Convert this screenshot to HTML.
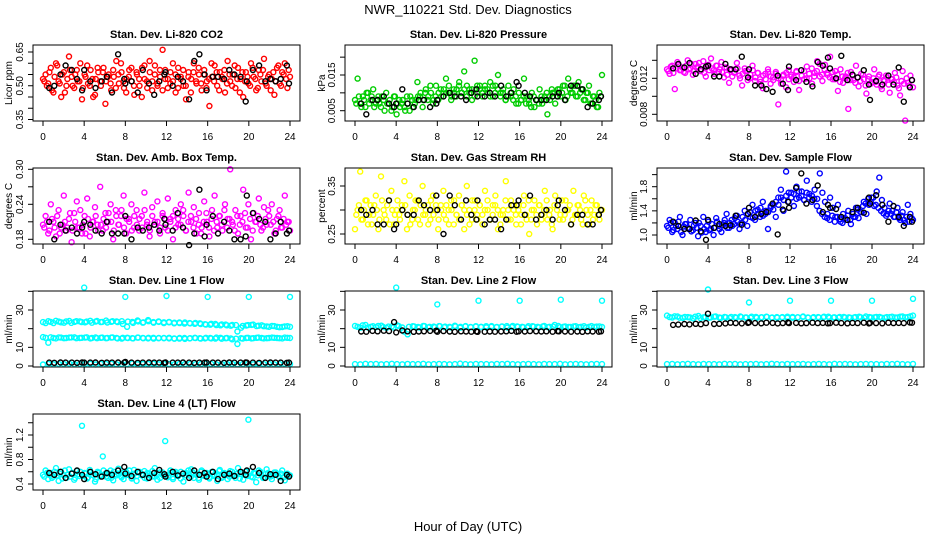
<!DOCTYPE html>
<html><head><meta charset="utf-8"><style>
html,body{margin:0;padding:0;background:#fff;}
svg{display:block;font-family:"Liberation Sans",Arial,sans-serif;}
</style></head><body>
<svg id="chart" width="936" height="540" viewBox="0 0 936 540">
<text x="468" y="14" text-anchor="middle" font-size="13">NWR_110221  Std. Dev. Diagnostics</text>
<text x="468" y="531" text-anchor="middle" font-size="13">Hour of Day (UTC)</text>
</svg>
<script>
const blackHours=[0.6,1.1,1.7,2.2,2.8,3.3,3.8,4.0,4.6,5.1,5.7,6.2,6.7,7.3,7.9,8.0,8.6,9.2,9.7,10.3,10.8,11.3,11.8,11.9,12.6,13.1,13.6,14.2,14.7,15.2,15.7,15.9,16.5,17.0,17.6,18.1,18.6,19.2,19.7,19.8,20.4,21.0,21.6,22.1,22.6,23.1,23.7,23.9];
const outlierHours=[4,8,12,16,20,24];
const xTicks=[0,4,8,12,16,20,24];

const co2Red=[0.53,0.55,0.51,0.58,0.47,0.60,0.52,0.45,0.56,0.50,0.63,0.54,0.49,0.57,0.52,0.44,0.55,0.59,0.50,0.53,0.46,0.58,0.52,0.56,0.42,0.54,0.51,0.57,0.49,0.55,0.60,0.52,0.47,0.54,0.58,0.50,0.56,0.53,0.45,0.59,0.52,0.61,0.48,0.55,0.51,0.57,0.66,0.53,0.49,0.56,0.52,0.47,0.58,0.54,0.50,0.44,0.56,0.53,0.60,0.51,0.55,0.48,0.57,0.52,0.41,0.54,0.59,0.50,0.56,0.53,0.47,0.61,0.52,0.55,0.49,0.58,0.53,0.45,0.56,0.51,0.60,0.54,0.48,0.57,0.52,0.62,0.50,0.55,0.53,0.46,0.58,0.51,0.56,0.60,0.49,0.54];
const co2RedB=[0.52,0.50,0.56,0.48,0.54,0.59,0.51,0.55,0.47,0.53,0.57,0.50,0.55,0.52,0.60,0.49,0.54,0.51,0.57,0.45,0.53,0.56,0.50,0.58,0.52,0.55,0.48,0.54,0.61,0.51,0.56,0.49,0.53,0.57,0.52,0.46,0.55,0.50,0.58,0.53,0.49,0.56,0.52,0.59,0.50,0.54,0.48,0.57,0.53,0.51,0.60,0.55,0.49,0.53,0.57,0.50,0.54,0.47,0.56,0.52,0.58,0.51,0.55,0.49,0.53,0.60,0.52,0.56,0.48,0.54,0.57,0.51,0.55,0.50,0.59,0.53,0.47,0.56,0.52,0.54,0.50,0.58,0.53,0.49,0.55,0.57,0.51,0.54,0.48,0.56,0.52,0.59,0.50,0.55,0.53,0.57];
const co2Black=[0.49,0.50,0.55,0.59,0.57,0.53,0.48,0.57,0.52,0.49,0.52,0.54,0.47,0.64,0.53,0.51,0.52,0.47,0.57,0.51,0.46,0.52,0.55,0.56,0.50,0.54,0.52,0.44,0.61,0.64,0.55,0.48,0.54,0.54,0.53,0.57,0.55,0.54,0.43,0.52,0.57,0.59,0.52,0.53,0.52,0.53,0.59,0.51];
const presGreen=[0.008,0.014,0.007,0.009,0.006,0.010,0.008,0.011,0.007,0.009,0.006,0.008,0.010,0.007,0.005,0.009,0.004,0.008,0.007,0.006,0.009,0.005,0.008,0.007,0.013,0.009,0.006,0.010,0.008,0.012,0.007,0.009,0.008,0.011,0.009,0.014,0.010,0.008,0.011,0.009,0.012,0.010,0.016,0.009,0.011,0.008,0.019,0.010,0.012,0.009,0.011,0.010,0.013,0.009,0.012,0.015,0.010,0.011,0.008,0.012,0.009,0.011,0.007,0.010,0.008,0.014,0.009,0.007,0.010,0.006,0.008,0.011,0.007,0.009,0.004,0.008,0.010,0.007,0.011,0.009,0.012,0.008,0.014,0.010,0.012,0.009,0.013,0.011,0.008,0.010,0.012,0.007,0.009,0.006,0.010,0.015];
const presGreenB=[0.007,0.009,0.006,0.008,0.010,0.007,0.009,0.006,0.008,0.007,0.009,0.005,0.007,0.008,0.006,0.009,0.007,0.006,0.008,0.005,0.007,0.009,0.006,0.008,0.009,0.010,0.008,0.011,0.009,0.010,0.008,0.012,0.010,0.009,0.011,0.010,0.012,0.009,0.010,0.011,0.013,0.010,0.011,0.012,0.010,0.011,0.009,0.012,0.011,0.010,0.012,0.011,0.009,0.012,0.010,0.011,0.009,0.010,0.008,0.009,0.010,0.008,0.009,0.007,0.008,0.009,0.007,0.008,0.006,0.009,0.008,0.007,0.009,0.008,0.010,0.009,0.011,0.010,0.009,0.011,0.010,0.012,0.009,0.011,0.010,0.012,0.009,0.010,0.011,0.008,0.010,0.007,0.009,0.008,0.006,0.009];
const presBlack=[0.007,0.004,0.008,0.008,0.009,0.007,0.006,0.007,0.011,0.007,0.006,0.008,0.008,0.006,0.007,0.008,0.009,0.010,0.009,0.009,0.008,0.010,0.011,0.009,0.009,0.010,0.009,0.012,0.009,0.010,0.013,0.012,0.010,0.009,0.008,0.008,0.008,0.009,0.009,0.010,0.008,0.012,0.012,0.011,0.006,0.007,0.008,0.009];
const tempMag=[0.0130,0.0125,0.0134,0.0108,0.0138,0.0129,0.0132,0.0126,0.0140,0.0131,0.0124,0.0136,0.0133,0.0128,0.0139,0.0122,0.0135,0.0142,0.0129,0.0134,0.0127,0.0138,0.0121,0.0132,0.0115,0.0130,0.0126,0.0137,0.0123,0.0112,0.0131,0.0128,0.0120,0.0134,0.0117,0.0126,0.0119,0.0109,0.0125,0.0130,0.0114,0.0121,0.0127,0.0091,0.0118,0.0124,0.0110,0.0129,0.0122,0.0116,0.0128,0.0107,0.0123,0.0119,0.0133,0.0120,0.0114,0.0126,0.0139,0.0122,0.0117,0.0135,0.0124,0.0144,0.0119,0.0128,0.0106,0.0130,0.0115,0.0122,0.0086,0.0127,0.0118,0.0134,0.0111,0.0125,0.0119,0.0103,0.0122,0.0116,0.0130,0.0113,0.0124,0.0108,0.0117,0.0121,0.0104,0.0119,0.0126,0.0112,0.0101,0.0128,0.0073,0.0115,0.0123,0.0110];
const tempMagB=[0.0128,0.0133,0.0126,0.0131,0.0135,0.0129,0.0127,0.0134,0.0130,0.0136,0.0128,0.0132,0.0137,0.0130,0.0126,0.0133,0.0129,0.0131,0.0125,0.0134,0.0130,0.0127,0.0132,0.0124,0.0129,0.0122,0.0127,0.0131,0.0120,0.0125,0.0128,0.0118,0.0124,0.0129,0.0121,0.0126,0.0116,0.0123,0.0119,0.0127,0.0122,0.0118,0.0125,0.0120,0.0114,0.0123,0.0126,0.0119,0.0124,0.0121,0.0127,0.0117,0.0123,0.0128,0.0120,0.0125,0.0131,0.0122,0.0128,0.0136,0.0124,0.0130,0.0126,0.0121,0.0127,0.0119,0.0124,0.0116,0.0122,0.0120,0.0126,0.0118,0.0123,0.0115,0.0121,0.0117,0.0124,0.0112,0.0119,0.0114,0.0120,0.0116,0.0122,0.0111,0.0118,0.0123,0.0113,0.0119,0.0116,0.0121,0.0109,0.0117,0.0114,0.0120,0.0112,0.0118];
const tempBlack=[0.0131,0.0136,0.0132,0.0137,0.0125,0.0130,0.0133,0.0134,0.0122,0.0122,0.0136,0.0130,0.0130,0.0144,0.0121,0.0130,0.0112,0.0112,0.0108,0.0105,0.0123,0.0114,0.0107,0.0133,0.0118,0.0129,0.0116,0.0111,0.0138,0.0134,0.0143,0.0131,0.0120,0.0145,0.0118,0.0124,0.0121,0.0129,0.0113,0.0096,0.0117,0.0113,0.0123,0.0113,0.0132,0.0094,0.0110,0.0118];
const ambMag=[0.205,0.22,0.19,0.24,0.21,0.185,0.23,0.20,0.255,0.195,0.215,0.175,0.225,0.245,0.20,0.19,0.22,0.25,0.185,0.21,0.235,0.205,0.27,0.195,0.225,0.21,0.24,0.18,0.23,0.205,0.22,0.255,0.19,0.215,0.24,0.20,0.23,0.195,0.22,0.26,0.205,0.185,0.235,0.21,0.245,0.19,0.22,0.20,0.25,0.215,0.18,0.23,0.205,0.24,0.22,0.195,0.26,0.21,0.235,0.19,0.225,0.20,0.245,0.21,0.185,0.23,0.255,0.20,0.22,0.195,0.24,0.215,0.30,0.205,0.23,0.19,0.22,0.265,0.20,0.24,0.18,0.225,0.21,0.25,0.195,0.235,0.205,0.22,0.24,0.19,0.215,0.23,0.20,0.255,0.21,0.195];
const ambMagB=[0.20,0.21,0.195,0.215,0.20,0.22,0.19,0.205,0.21,0.20,0.225,0.195,0.21,0.20,0.23,0.205,0.19,0.215,0.20,0.21,0.22,0.195,0.205,0.215,0.20,0.225,0.21,0.195,0.22,0.205,0.23,0.20,0.215,0.21,0.195,0.22,0.205,0.215,0.20,0.23,0.21,0.195,0.22,0.205,0.21,0.20,0.225,0.215,0.195,0.21,0.22,0.20,0.215,0.205,0.23,0.195,0.21,0.22,0.20,0.215,0.205,0.19,0.21,0.225,0.20,0.215,0.195,0.21,0.22,0.205,0.23,0.20,0.215,0.21,0.195,0.22,0.205,0.21,0.225,0.20,0.215,0.195,0.21,0.22,0.205,0.20,0.215,0.23,0.205,0.21,0.195,0.22,0.20,0.215,0.205,0.21];
const ambBlack=[0.21,0.18,0.205,0.195,0.20,0.19,0.20,0.21,0.205,0.195,0.19,0.21,0.19,0.19,0.19,0.22,0.18,0.20,0.195,0.20,0.205,0.195,0.215,0.205,0.195,0.225,0.20,0.17,0.19,0.265,0.185,0.205,0.22,0.19,0.21,0.195,0.18,0.18,0.185,0.255,0.225,0.215,0.21,0.18,0.19,0.21,0.19,0.195];
const rhYellow=[0.26,0.30,0.38,0.28,0.32,0.27,0.31,0.29,0.33,0.26,0.37,0.30,0.28,0.32,0.34,0.27,0.30,0.29,0.31,0.36,0.26,0.33,0.28,0.30,0.32,0.27,0.35,0.29,0.31,0.28,0.33,0.30,0.26,0.31,0.34,0.28,0.30,0.32,0.27,0.29,0.33,0.31,0.26,0.35,0.30,0.28,0.32,0.29,0.31,0.27,0.34,0.30,0.28,0.31,0.33,0.26,0.29,0.30,0.36,0.28,0.32,0.30,0.27,0.31,0.29,0.33,0.28,0.25,0.30,0.32,0.27,0.31,0.29,0.34,0.28,0.30,0.26,0.33,0.31,0.29,0.28,0.32,0.30,0.27,0.34,0.29,0.31,0.28,0.33,0.30,0.27,0.32,0.29,0.31,0.28,0.30];
const rhYellowB=[0.29,0.31,0.28,0.30,0.32,0.29,0.27,0.31,0.30,0.28,0.32,0.29,0.31,0.27,0.30,0.29,0.32,0.28,0.30,0.31,0.29,0.27,0.30,0.32,0.28,0.31,0.29,0.30,0.27,0.32,0.29,0.31,0.28,0.30,0.29,0.31,0.27,0.30,0.32,0.29,0.28,0.31,0.30,0.29,0.27,0.32,0.30,0.28,0.31,0.29,0.30,0.32,0.28,0.29,0.31,0.30,0.27,0.29,0.32,0.30,0.28,0.31,0.29,0.30,0.27,0.31,0.29,0.32,0.28,0.30,0.29,0.31,0.28,0.30,0.32,0.29,0.27,0.31,0.30,0.28,0.32,0.29,0.30,0.31,0.28,0.29,0.31,0.30,0.27,0.32,0.29,0.30,0.28,0.31,0.29,0.30];
const rhBlack=[0.30,0.29,0.30,0.27,0.27,0.32,0.26,0.27,0.30,0.29,0.29,0.32,0.31,0.30,0.33,0.30,0.25,0.33,0.31,0.28,0.32,0.29,0.28,0.32,0.27,0.28,0.28,0.26,0.28,0.31,0.31,0.32,0.29,0.33,0.28,0.29,0.30,0.28,0.31,0.32,0.30,0.27,0.29,0.29,0.27,0.27,0.29,0.30];
const flowBlue=[1.15,1.25,1.05,1.20,1.10,1.30,1.00,1.18,1.12,1.25,1.08,1.20,0.98,1.15,1.30,1.05,1.22,1.10,1.00,1.28,1.15,1.05,1.20,1.35,1.12,1.25,1.18,1.32,1.10,1.20,1.40,1.15,1.38,1.50,1.25,1.42,1.30,1.55,1.35,1.10,1.45,1.50,1.30,1.62,1.75,1.40,2.05,1.55,1.70,1.48,1.80,1.62,1.72,1.58,1.90,1.68,1.65,1.75,1.60,2.02,1.70,1.55,1.35,1.62,1.45,1.30,1.50,1.22,1.35,1.25,1.40,1.18,1.30,1.45,1.28,1.38,1.55,1.35,1.50,1.62,1.48,1.72,1.95,1.58,1.45,1.35,1.52,1.40,1.30,1.45,1.25,1.38,1.20,1.50,1.35,1.25];
const flowBlueB=[1.12,1.20,1.08,1.15,1.22,1.05,1.14,1.18,1.10,1.06,1.16,1.12,1.20,1.04,1.10,1.15,1.08,1.18,1.12,1.22,1.10,1.16,1.25,1.12,1.20,1.15,1.28,1.22,1.18,1.30,1.25,1.35,1.30,1.28,1.40,1.35,1.45,1.32,1.40,1.38,1.48,1.42,1.55,1.50,1.62,1.58,1.65,1.70,1.62,1.68,1.60,1.72,1.65,1.58,1.70,1.62,1.55,1.60,1.48,1.40,1.35,1.30,1.28,1.25,1.32,1.22,1.30,1.26,1.20,1.28,1.32,1.25,1.35,1.30,1.42,1.38,1.48,1.52,1.60,1.55,1.62,1.50,1.45,1.40,1.36,1.32,1.40,1.35,1.30,1.38,1.28,1.32,1.25,1.30,1.22,1.28];
const flowBlack=[1.22,1.15,1.10,1.10,1.24,1.06,0.92,1.25,1.12,1.18,1.15,1.16,1.32,1.17,1.35,1.45,1.30,1.35,1.38,1.52,1.01,1.42,1.55,1.45,1.78,2.02,1.52,1.58,1.82,1.38,1.50,1.45,1.43,1.30,1.25,1.38,1.45,1.37,1.62,1.52,1.66,1.50,1.22,1.48,1.30,1.15,1.30,1.22];
const l1Hi=[23.5,24.0,23.0,23.8,23.2,24.1,23.6,23.9,23.4,24.2,23.8,23.5,24.3,23.7,23.9,24.0,21.0,23.6,24.4,23.2,24.6,23.5,23.9,23.4,23.6,23.2,23.0,23.3,22.8,23.1,22.5,22.2,22.6,21.9,22.3,21.8,22.0,18.5,21.5,21.9,22.2,21.6,21.3,21.0,21.4,20.8,21.2,21.0];
const l1Hi2=[23.0,23.6,24.2,23.4,23.9,23.1,24.0,23.5,23.8,23.2,24.1,23.6,23.3,24.0,23.5,22.5,23.8,23.1,23.9,23.4,24.0,23.2,23.6,23.0,23.4,22.9,23.3,22.7,23.0,22.6,22.9,22.4,22.1,22.5,21.8,22.2,21.6,21.9,20.5,21.7,22.0,21.4,21.8,21.2,21.5,21.0,20.9,21.3];
const l1Lo=[15.5,12.5,15.0,15.3,14.9,15.2,15.4,15.0,15.2,14.8,15.3,15.1,14.9,15.2,15.0,14.7,15.1,14.9,15.2,15.0,14.8,15.1,14.9,15.0,14.8,14.6,15.0,14.5,14.9,15.0,14.7,15.1,14.8,15.2,14.6,15.0,14.3,11.8,14.7,15.1,14.9,15.2,14.8,15.0,15.1,14.9,15.2,15.0];
const l1Lo2=[15.1,15.4,14.8,15.2,15.0,15.3,14.9,15.1,15.4,15.0,14.9,15.2,15.0,15.3,14.8,15.1,15.0,14.8,15.2,14.9,15.1,14.7,15.0,14.9,15.1,14.8,14.7,15.0,14.8,15.1,14.9,14.8,15.0,14.7,15.1,14.9,14.8,14.6,14.9,15.0,14.8,15.1,15.0,14.9,15.2,15.0,14.8,15.1];
const l1Base=[0.8,1.2,0.9,1.1,1.0,1.3,0.9,1.1,1.0,1.2,0.8,1.1,1.0,1.2,0.9,1.1,1.0,1.3,0.9,1.0,1.1,1.2,0.9,1.0,1.1,0.9,1.2,1.0,1.1,0.9,1.0,1.2,1.1,0.9,1.0,1.1,1.2,0.9,1.0,1.1,0.9,1.2,1.0,1.1,0.9,1.0,1.1,1.0];
const l1Black=[1.8,1.7,1.9,1.8,1.8,1.7,1.9,1.8,1.8,1.9,1.7,1.8,1.8,1.9,1.8,2.2,1.8,1.7,1.8,1.9,1.8,1.8,1.7,1.9,1.8,1.8,1.9,1.8,1.7,1.8,1.8,1.9,1.8,1.8,1.7,1.9,1.8,1.8,1.9,1.8,1.8,1.7,1.8,1.9,1.8,1.8,1.7,1.8];
const l1Out=[42,37,37.5,37,37,37];
const l2Band=[21.5,20.5,22.0,21.0,20.8,21.6,20.4,21.2,21.8,20.6,17.0,21.3,20.9,21.5,20.7,21.1,21.4,20.8,21.0,21.6,20.5,21.2,20.9,21.3,21.0,20.7,21.4,20.9,21.2,20.6,21.5,21.0,20.8,21.3,21.1,20.7,21.5,21.0,22.0,20.8,21.2,20.9,21.3,21.0,20.6,21.4,21.1,20.9];
const l2Band2=[21.0,21.8,20.6,21.3,21.5,20.9,21.1,20.7,21.4,18.5,21.0,21.2,20.6,21.4,21.0,20.8,21.3,21.1,20.7,21.2,21.0,21.4,20.8,21.1,20.9,21.3,21.0,20.8,21.1,21.4,20.9,21.2,21.0,20.7,21.3,21.0,21.2,20.8,21.1,21.5,21.0,20.9,21.2,20.8,21.3,21.0,20.9,21.2];
const l2Base=[1.0,0.9,1.2,1.0,1.1,0.9,1.0,1.2,1.0,0.9,1.1,1.0,1.0,1.2,0.9,1.0,1.1,1.0,0.9,1.0,1.3,1.0,0.9,1.1,1.0,1.0,0.9,1.1,1.0,1.2,1.0,0.9,1.0,1.1,1.0,0.9,1.1,1.0,1.0,1.2,0.9,1.0,1.1,1.0,0.9,1.0,1.1,1.0];
const l2Black=[18.5,18.4,18.8,18.6,18.9,18.7,23.5,18.0,19.0,18.6,18.3,18.5,18.6,18.8,18.9,18.4,18.7,18.5,18.3,18.6,18.5,18.4,18.6,18.3,18.4,18.5,18.4,18.5,18.6,18.8,18.4,18.6,18.5,18.7,18.6,18.5,18.6,18.4,18.7,18.6,18.5,18.4,18.5,18.3,18.6,18.5,18.4,18.6];
const l2Out=[42,33,35,35,35.5,35];
const l3Band=[27.0,26.0,26.5,25.8,26.2,25.5,26.8,26.1,25.9,26.4,26.0,26.3,25.7,26.2,26.5,26.0,25.8,26.3,26.1,26.4,25.9,26.2,26.0,25.8,26.3,26.1,26.5,25.9,26.2,26.0,26.4,25.8,26.1,26.3,26.0,25.9,26.2,26.1,26.5,26.0,26.3,25.9,26.2,26.4,26.0,26.5,26.2,27.0];
const l3Band2=[26.2,26.6,25.9,26.3,26.0,26.4,25.7,26.2,26.0,26.5,25.8,26.1,26.3,25.9,26.2,26.0,26.4,25.8,26.1,26.3,26.0,25.9,26.2,26.4,25.9,26.1,26.3,26.0,25.8,26.2,26.1,26.4,26.0,25.9,26.3,26.1,26.0,26.4,25.8,26.2,26.1,26.3,25.9,26.2,26.0,26.4,26.1,26.6];
const l3Base=[1.0,1.1,0.9,1.0,1.2,1.0,0.9,1.1,1.0,1.0,0.9,1.2,1.0,1.1,0.9,1.0,1.0,1.1,0.9,1.0,1.2,1.0,0.9,1.1,1.0,1.0,1.1,0.9,1.0,1.1,1.0,0.9,1.2,1.0,1.1,1.0,0.9,1.0,1.1,1.0,1.0,0.9,1.1,1.0,1.2,1.0,0.9,1.1];
const l3Black=[22.0,22.2,22.5,22.3,22.6,22.4,23.0,28.0,22.5,22.6,22.8,23.2,23.0,22.8,23.1,23.4,23.0,22.9,23.2,23.1,22.8,23.0,23.3,23.0,23.1,22.9,23.0,23.2,23.0,23.1,22.9,23.0,23.2,23.0,22.9,23.1,23.0,23.2,22.8,23.1,23.0,22.9,23.2,23.0,23.1,23.0,23.3,23.2];
const l3Out=[41,34,35,35,35,36];
const l4Cyan=[0.55,0.62,0.48,0.58,0.52,0.66,0.45,0.60,0.54,0.50,0.64,0.57,0.47,0.61,0.53,1.35,0.58,0.49,0.63,0.55,0.44,0.60,0.52,0.85,0.57,0.50,0.62,0.46,0.56,0.65,0.53,0.48,0.60,0.55,0.50,0.63,0.45,0.58,0.54,0.61,0.49,0.57,0.52,0.66,0.47,0.59,0.55,1.10,0.51,0.62,0.48,0.57,0.53,0.60,0.44,0.58,0.55,0.64,0.50,0.56,0.47,0.62,0.53,0.58,0.49,0.60,0.55,0.45,0.63,0.52,0.57,0.48,0.61,0.54,0.50,0.66,0.56,0.47,0.60,1.45,0.52,0.58,0.43,0.62,0.55,0.50,0.64,0.53,0.48,0.59,0.56,0.51,0.62,0.46,0.57,0.54];
const l4CyanB=[0.52,0.58,0.55,0.50,0.60,0.54,0.57,0.49,0.62,0.55,0.52,0.58,0.50,0.56,0.60,0.53,0.57,0.51,0.59,0.54,0.48,0.58,0.55,0.62,0.52,0.57,0.50,0.60,0.54,0.56,0.51,0.59,0.55,0.62,0.49,0.57,0.53,0.60,0.56,0.50,0.58,0.54,0.61,0.52,0.56,0.50,0.59,0.55,0.53,0.58,0.51,0.60,0.56,0.49,0.57,0.54,0.62,0.52,0.58,0.55,0.50,0.60,0.54,0.57,0.51,0.59,0.53,0.56,0.61,0.50,0.58,0.55,0.52,0.60,0.54,0.57,0.49,0.59,0.55,0.53,0.61,0.51,0.57,0.54,0.60,0.50,0.56,0.58,0.52,0.55,0.59,0.53,0.57,0.51,0.56,0.54];
const l4Black=[0.58,0.55,0.60,0.50,0.57,0.62,0.55,0.48,0.60,0.56,0.52,0.58,0.55,0.62,0.68,0.57,0.53,0.60,0.55,0.50,0.58,0.63,0.56,0.52,0.60,0.54,0.57,0.50,0.62,0.55,0.58,0.52,0.60,0.48,0.55,0.57,0.53,0.60,0.55,0.62,0.68,0.58,0.50,0.56,0.55,0.45,0.55,0.52];

const NS='http://www.w3.org/2000/svg';
const svg=document.getElementById('chart');
function mk(tag,attrs,parent){const e=document.createElementNS(NS,tag);for(const k in attrs)e.setAttribute(k,attrs[k]);(parent||svg).appendChild(e);return e;}
const cols=[{l:33,r:300,x0:43,x24:290,yt:8},{l:345,r:612,x0:355,x24:602,yt:321},{l:657,r:924,x0:667,x24:913,yt:633}];
const rows=[{t:45,b:121},{t:168,b:244},{t:291,b:367},{t:414,b:490}];
function even(n,half){const a=[];for(let i=0;i<n;i++)a.push(half?(i+0.5)*24/n:i*24/(n-1));return a;}

function panel(p){
  const c=cols[p.col],r=rows[p.row];
  const g=mk('g',{});
  
  
  const sx=h=>c.x0+(h/24)*(c.x24-c.x0);
  const sy=v=>p.p1+(v-p.v1)*(p.p2-p.p1)/(p.v2-p.v1);
  const t=mk('text',{x:(c.l+c.r)/2,y:r.t-7,'text-anchor':'middle','font-size':11,'font-weight':'bold'},g);
  t.textContent=p.title;
  
  
  const yt=mk('text',{x:c.yt+4,y:(r.t+r.b)/2,'text-anchor':'middle','font-size':10,transform:`rotate(-90 ${c.yt+4} ${(r.t+r.b)/2})`},g);
  yt.textContent=p.ylab;
  
  
  const marks=mk('g',{},g);
  
  
  p.series.forEach(s=>{
    const xs=s.x||even(s.y.length,s.half);
    const n=Math.min(xs.length,s.y.length);
    for(let i=0;i<n;i++){
      const cy=sy(s.y[i]);
      const ci=mk('circle',{cx:sx(xs[i]).toFixed(1),cy:cy.toFixed(1),r:2.5,fill:'none',stroke:s.color,'stroke-width':1.4},marks);
      
      
    }
  });
  const box=mk('rect',{x:c.l,y:r.t,width:c.r-c.l,height:r.b-r.t,fill:'none',stroke:'#000','stroke-width':1},g);
  
  
  xTicks.forEach(h=>{
    mk('line',{x1:sx(h),x2:sx(h),y1:r.b,y2:r.b+5,stroke:'#000'},g);
    const tl=mk('text',{x:sx(h),y:r.b+19,'text-anchor':'middle','font-size':10},g);
    tl.textContent=h;
    
    
  });
  const yv=p.ticks.map(sy);
  mk('line',{x1:c.l,x2:c.l,y1:Math.min(...yv),y2:Math.max(...yv),stroke:'#000'},g);
  p.ticks.forEach((v,i)=>{
    const y=sy(v);
    mk('line',{x1:c.l-5,x2:c.l,y1:y,y2:y,stroke:'#000'},g);
    if(p.labels[i]){
      const tl=mk('text',{x:c.l-10,y:y,'text-anchor':'middle','font-size':10,transform:`rotate(-90 ${c.l-10} ${y})`},g);
      tl.textContent=p.labels[i];
      
      
    }
  });
}

panel({name:'panel-co2',col:0,row:0,title:'Stan. Dev. Li-820 CO2',ylab:'Licor ppm',v1:0.65,p1:52,v2:0.35,p2:119.5,
  ticks:[0.35,0.40,0.45,0.50,0.55,0.60,0.65],labels:['0.35','','','0.50','','','0.65'],
  series:[{name:'co2-point',y:co2Red,color:'#ff0000'},{name:'co2-point',y:co2RedB,half:true,color:'#ff0000'},{name:'co2-mean-point',x:blackHours,y:co2Black,color:'#000'}]});
panel({name:'panel-pressure',col:1,row:0,title:'Stan. Dev. Li-820 Pressure',ylab:'kPa',v1:0.015,p1:75,v2:0.005,p2:110.7,
  ticks:[0.005,0.010,0.015,0.020],labels:['0.005','','0.015',''],
  series:[{name:'pressure-point',y:presGreen,color:'#00cc00'},{name:'pressure-point',y:presGreenB,half:true,color:'#00cc00'},{name:'pressure-mean-point',x:blackHours,y:presBlack,color:'#000'}]});
panel({name:'panel-temp',col:2,row:0,title:'Stan. Dev. Li-820 Temp.',ylab:'degrees C',v1:0.012,p1:78.3,v2:0.008,p2:114.3,
  ticks:[0.008,0.010,0.012,0.014],labels:['0.008','','0.012',''],
  series:[{name:'temp-point',y:tempMag,color:'#ff00ff'},{name:'temp-point',y:tempMagB,half:true,color:'#ff00ff'},{name:'temp-mean-point',x:blackHours,y:tempBlack,color:'#000'}]});
panel({name:'panel-ambbox',col:0,row:1,title:'Stan. Dev. Amb. Box Temp.',ylab:'degrees C',v1:0.30,p1:169.3,v2:0.18,p2:239.3,
  ticks:[0.18,0.21,0.24,0.27,0.30],labels:['0.18','','0.24','','0.30'],
  series:[{name:'ambbox-point',y:ambMag,color:'#ff00ff'},{name:'ambbox-point',y:ambMagB,half:true,color:'#ff00ff'},{name:'ambbox-mean-point',x:blackHours,y:ambBlack,color:'#000'}]});
panel({name:'panel-rh',col:1,row:1,title:'Stan. Dev. Gas Stream RH',ylab:'percent',v1:0.35,p1:186,v2:0.25,p2:234,
  ticks:[0.25,0.30,0.35],labels:['0.25','','0.35'],
  series:[{name:'rh-point',y:rhYellow,color:'#ffff00'},{name:'rh-point',y:rhYellowB,half:true,color:'#ffff00'},{name:'rh-mean-point',x:blackHours,y:rhBlack,color:'#000'}]});
panel({name:'panel-sampleflow',col:2,row:1,title:'Stan. Dev. Sample Flow',ylab:'ml/min',v1:1.8,p1:186.7,v2:1.0,p2:235,
  ticks:[1.0,1.2,1.4,1.6,1.8,2.0],labels:['1.0','','1.4','','1.8',''],
  series:[{name:'flow-point',y:flowBlue,color:'#0000ff'},{name:'flow-point',y:flowBlueB,half:true,color:'#0000ff'},{name:'flow-mean-point',x:blackHours,y:flowBlack,color:'#000'}]});
panel({name:'panel-line1',col:0,row:2,title:'Stan. Dev. Line 1 Flow',ylab:'ml/min',v1:30,p1:310,v2:0,p2:366,
  ticks:[0,10,20,30,40],labels:['0','10','','30',''],
  series:[{name:'line1-high-point',y:l1Hi,color:'#00ffff'},{name:'line1-high-point',y:l1Hi2,half:true,color:'#00ffff'},{name:'line1-low-point',y:l1Lo,color:'#00ffff'},{name:'line1-low-point',y:l1Lo2,half:true,color:'#00ffff'},{name:'line1-base-point',y:l1Base,color:'#00ffff'},
          {name:'line1-outlier',x:outlierHours,y:l1Out,color:'#00ffff'},{name:'line1-mean-point',x:blackHours,y:l1Black,color:'#000'}]});
panel({name:'panel-line2',col:1,row:2,title:'Stan. Dev. Line 2 Flow',ylab:'ml/min',v1:30,p1:310,v2:0,p2:366,
  ticks:[0,10,20,30,40],labels:['0','10','','30',''],
  series:[{name:'line2-band-point',y:l2Band,color:'#00ffff'},{name:'line2-band-point',y:l2Band2,half:true,color:'#00ffff'},{name:'line2-base-point',y:l2Base,color:'#00ffff'},
          {name:'line2-outlier',x:outlierHours,y:l2Out,color:'#00ffff'},{name:'line2-mean-point',x:blackHours,y:l2Black,color:'#000'}]});
panel({name:'panel-line3',col:2,row:2,title:'Stan. Dev. Line 3 Flow',ylab:'ml/min',v1:30,p1:310,v2:0,p2:366,
  ticks:[0,10,20,30,40],labels:['0','10','','30',''],
  series:[{name:'line3-band-point',y:l3Band,color:'#00ffff'},{name:'line3-band-point',y:l3Band2,half:true,color:'#00ffff'},{name:'line3-base-point',y:l3Base,color:'#00ffff'},
          {name:'line3-outlier',x:outlierHours,y:l3Out,color:'#00ffff'},{name:'line3-mean-point',x:blackHours,y:l3Black,color:'#000'}]});
panel({name:'panel-line4',col:0,row:3,title:'Stan. Dev. Line 4 (LT) Flow',ylab:'ml/min',v1:1.2,p1:435,v2:0.4,p2:484,
  ticks:[0.4,0.6,0.8,1.0,1.2,1.4],labels:['0.4','','0.8','','1.2',''],
  series:[{name:'line4-point',y:l4Cyan,color:'#00ffff'},{name:'line4-point',y:l4CyanB,half:true,color:'#00ffff'},{name:'line4-mean-point',x:blackHours,y:l4Black,color:'#000'}]});
</script>
</body></html>
